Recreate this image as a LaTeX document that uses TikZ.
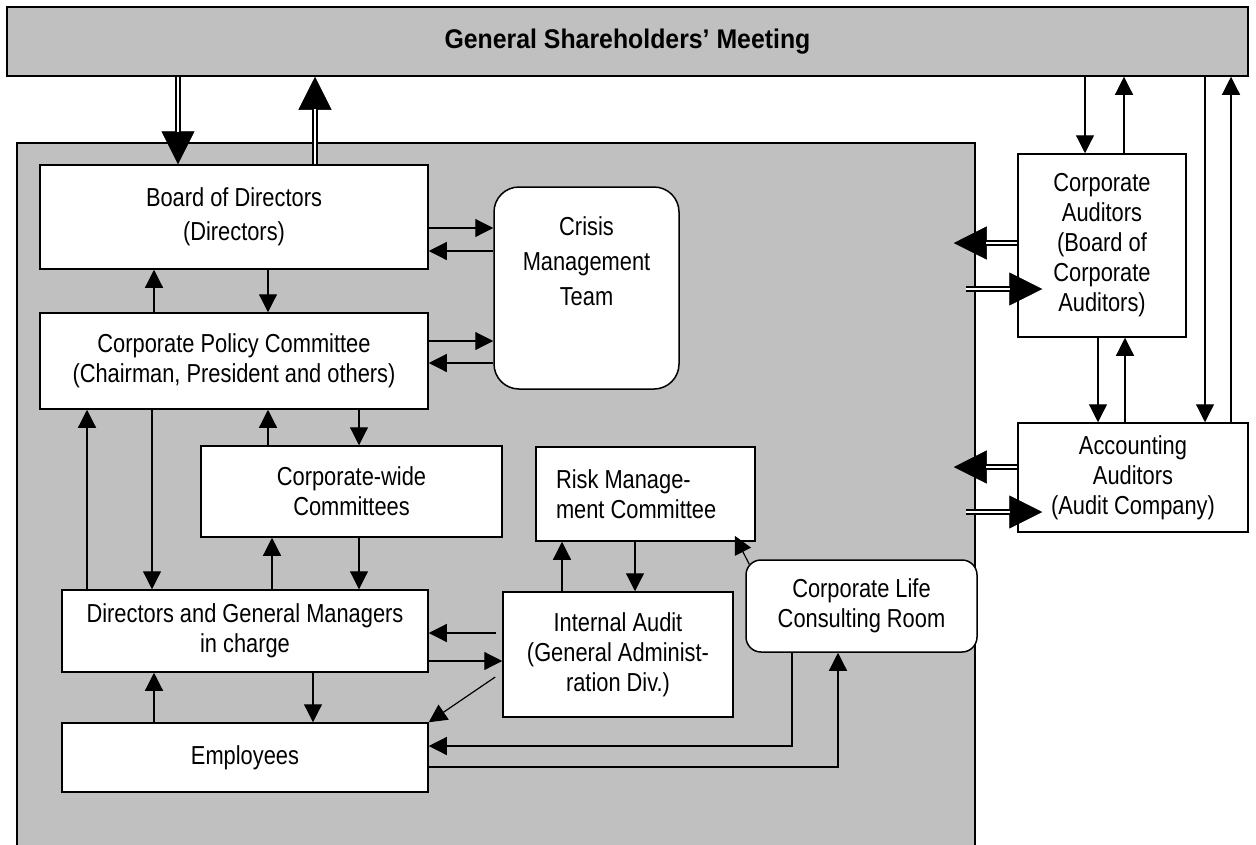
\documentclass[tikz,border=0pt]{standalone}
\usepackage{fontspec}
\setmainfont{Liberation Sans}[FakeStretch=0.84]
\newfontfamily\titlefont{Liberation Sans}[FakeStretch=0.92]
\usetikzlibrary{arrows.meta}
\definecolor{shade}{RGB}{192,192,192}
\tikzset{
	box/.style={draw, fill=white, line width=1.5pt, inner sep=0pt, align=center,
		font=\fontsize{26}{30}\selectfont},
	roundbox/.style={box, rounded corners=#1},
	plain/.style={inner sep=0pt, align=center, font=\fontsize{26}{35}\selectfont},
	arr/.style={-{Triangle[length=18pt,width=18pt]}, line width=1.2pt},
	shaft/.style={double, double distance=2.5pt, line width=2pt},
	bighead/.style={-{Triangle[length=33pt,width=33pt,color=black]}, draw=white, line width=0.5pt}
}
\newcommand{\dblarrow}[2]{%
	\draw [bighead] #1 -- #2;
	\draw [shaft, shorten >=32pt] #1 -- #2;}
\begin{document}
\begin{tikzpicture}[x=1pt, y=-1pt]
	\useasboundingbox ( 0, 0 ) rectangle ( 1256, 844 );
	\clip ( 0, 0 ) rectangle ( 1256, 844 );

	% shareholders and company
	\node [box, fill=shade, minimum width=1241, minimum height=69] (gsm) at ( 627.5, 41.5 )
		{\titlefont\bfseries\fontsize{27}{30}\selectfont General Shareholders’ Meeting};
	\node [box, fill=shade, minimum width=958, minimum height=717] (company) at ( 496, 501.5 ) {};

	% boxes inside the company
	\node [box, minimum width=388, minimum height=104] (bod) at ( 234, 217 ) {Board of Directors\\[4pt](Directors)};
	\node [roundbox=25pt, minimum width=185, minimum height=202] (cmt) at ( 586.5, 288 ) {};
	\node [plain] (cmttext) at ( 586.5, 261 ) {Crisis\\Management\\Team};
	\node [box, minimum width=388, minimum height=96] (cpc) at ( 234, 361 ) {Corporate Policy Committee\\(Chairman, President and others)};
	\node [box, minimum width=301, minimum height=91] (cwc) at ( 351.5, 491.5 ) {Corporate-wide\\Committees};
	\node [box, align=flush left, text width=179, inner xsep=20pt, minimum height=94] (rmc) at ( 645.5, 494 ) {Risk Manage-\\ment Committee};
	\node [box, minimum width=366, minimum height=82] (dgm) at ( 245, 631 ) {Directors and General Managers\\in charge};
	\node [box, minimum width=230, minimum height=125] (ia) at ( 618, 654.5 ) {Internal Audit\\(General Administ-\\ration Div.)};
	\node [roundbox=15pt, minimum width=231, minimum height=92] (clc) at ( 861.5, 606 ) {Corporate Life\\Consulting Room};
	\node [box, minimum width=366, minimum height=69] (emp) at ( 245, 757.5 ) {Employees};

	% auditors
	\node [box, minimum width=168, minimum height=183] (ca) at ( 1102, 245.5 ) {Corporate\\Auditors\\(Board of\\Corporate\\Auditors)};
	\node [box, minimum width=230, minimum height=109] (aa) at ( 1133, 477.5 ) {Accounting\\Auditors\\(Audit Company)};

	% double arrows
	\dblarrow{(gsm.south -| 178,0)}{(bod.north -| 178,0)}
	\dblarrow{(bod.north -| 315,0)}{(gsm.south -| 315,0)}
	\dblarrow{(ca.west |- 0,243)}{([xshift=-22pt]company.east |- 0,243)}
	\dblarrow{([xshift=-10pt]company.east |- 0,289)}{([xshift=25pt]ca.west |- 0,289)}
	\dblarrow{(aa.west |- 0,467)}{([xshift=-22pt]company.east |- 0,467)}
	\dblarrow{([xshift=-10pt]company.east |- 0,512)}{([xshift=25pt]aa.west |- 0,512)}

	% board, policy committee and crisis team
	\draw [arr] (bod.east |- 0,228) -- (cmt.west |- 0,228);
	\draw [arr] (cmt.west |- 0,251) -- (bod.east |- 0,251);
	\draw [arr] (cpc.east |- 0,341) -- (cmt.west |- 0,341);
	\draw [arr] (cmt.west |- 0,363) -- (cpc.east |- 0,363);
	\draw [arr] (cpc.north -| 154,0) -- (bod.south -| 154,0);
	\draw [arr] (bod.south -| 268,0) -- (cpc.north -| 268,0);

	% policy committee, committees and managers
	\draw [arr] (dgm.north -| 87,0) -- (cpc.south -| 87,0);
	\draw [arr] (cpc.south -| 152,0) -- (dgm.north -| 152,0);
	\draw [arr] (cwc.north -| 268,0) -- (cpc.south -| 268,0);
	\draw [arr] (cpc.south -| 359,0) -- (cwc.north -| 359,0);
	\draw [arr] (dgm.north -| 272,0) -- (cwc.south -| 272,0);
	\draw [arr] (cwc.south -| 359,0) -- (dgm.north -| 359,0);
	\draw [arr] (emp.north -| 154,0) -- (dgm.south -| 154,0);
	\draw [arr] (dgm.south -| 313,0) -- (emp.north -| 313,0);

	% internal audit
	\draw [arr] ([xshift=-6pt]ia.west |- 0,633) -- (dgm.east |- 0,633);
	\draw [arr] (dgm.east |- 0,661) -- (ia.west |- 0,661);
	\draw [arr] ([xshift=-7pt]ia.west |- 0,677) -- (emp.north east);
	\draw [arr] (ia.north -| 562,0) -- (rmc.south -| 562,0);
	\draw [arr] (rmc.south -| 635,0) -- (ia.north -| 635,0);

	% consulting room
	\draw [arr] ([xshift=4pt, yshift=-5pt]clc.north west) -- ([xshift=-21pt, yshift=6pt]rmc.south east);
	\draw [arr] (clc.south -| 792,0) |- (emp.east |- 0,746);
	\draw [arr] (emp.east |- 0,767) -| (clc.south -| 838,0);

	% auditors and shareholders
	\draw [arr] (gsm.south -| 1085,0) -- (ca.north -| 1085,0);
	\draw [arr] (ca.north -| 1124,0) -- (gsm.south -| 1124,0);
	\draw [arr] (ca.south -| 1098,0) -- (aa.north -| 1098,0);
	\draw [arr] (aa.north -| 1125,0) -- (ca.south -| 1125,0);
	\draw [arr] (gsm.south -| 1205,0) -- (aa.north -| 1205,0);
	\draw [arr] (aa.north -| 1231,0) -- (gsm.south -| 1231,0);
\end{tikzpicture}
\end{document}
